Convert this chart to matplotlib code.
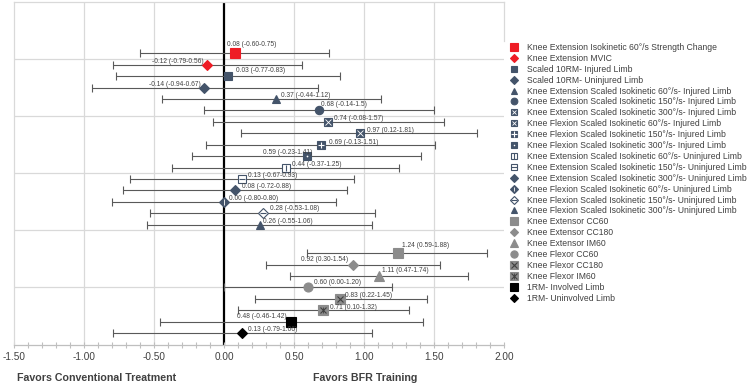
import matplotlib
matplotlib.use('Agg')
import matplotlib.pyplot as plt
import numpy as np
from matplotlib.lines import Line2D
from matplotlib.legend_handler import HandlerTuple

plt.rcParams['font.family'] = ['Liberation Sans', 'DejaVu Sans']

# ---------------- data ----------------
outcomes = [
    "Knee Extension Isokinetic 60°/s Strength Change",
    "Knee Extension MVIC",
    "Scaled 10RM- Injured Limb",
    "Scaled 10RM- Uninjured Limb",
    "Knee Extension Scaled Isokinetic 60°/s- Injured Limb",
    "Knee Extension Scaled Isokinetic 150°/s- Injured Limb",
    "Knee Extension Scaled Isokinetic 300°/s- Injured Limb",
    "Knee Flexion Scaled Isokinetic 60°/s- Injured Limb",
    "Knee Flexion Scaled Isokinetic 150°/s- Injured Limb",
    "Knee Flexion Scaled Isokinetic 300°/s- Injured Limb",
    "Knee Extension Scaled Isokinetic 60°/s- Uninjured Limb",
    "Knee Extension Scaled Isokinetic 150°/s- Uninjured Limb",
    "Knee Extension Scaled Isokinetic 300°/s- Uninjured Limb",
    "Knee Flexion Scaled Isokinetic 60°/s- Uninjured Limb",
    "Knee Flexion Scaled Isokinetic 150°/s- Uninjured Limb",
    "Knee Flexion Scaled Isokinetic 300°/s- Uninjured Limb",
    "Knee Extensor CC60",
    "Knee Extensor CC180",
    "Knee Extensor IM60",
    "Knee Flexor CC60",
    "Knee Flexor CC180",
    "Knee Flexor IM60",
    "1RM- Involved Limb",
    "1RM- Uninvolved Limb",
]
effect = [0.08, -0.12, 0.03, -0.14, 0.37, 0.68, 0.74, 0.97, 0.69, 0.59, 0.44, 0.13,
          0.08, 0.00, 0.28, 0.26, 1.24, 0.92, 1.11, 0.60, 0.83, 0.71, 0.48, 0.13]
ci_low = [-0.60, -0.79, -0.77, -0.94, -0.44, -0.14, -0.08, 0.12, -0.13, -0.23, -0.37, -0.67,
          -0.72, -0.80, -0.53, -0.55, 0.59, 0.30, 0.47, 0.00, 0.22, 0.10, -0.46, -0.79]
ci_high = [0.75, 0.56, 0.83, 0.67, 1.12, 1.50, 1.57, 1.81, 1.51, 1.41, 1.25, 0.93,
           0.88, 0.80, 1.08, 1.06, 1.88, 1.54, 1.74, 1.20, 1.45, 1.32, 1.42, 1.06]
value_labels = [
    "0.08 (-0.60-0.75)", "-0.12 (-0.79-0.56)", "0.03 (-0.77-0.83)", "-0.14 (-0.94-0.67)",
    "0.37 (-0.44-1.12)", "0.68 (-0.14-1.5)", "0.74 (-0.08-1.57)", "0.97 (0.12-1.81)",
    "0.69 (-0.13-1.51)", "0.59 (-0.23-1.41)", "0.44 (-0.37-1.25)", "0.13 (-0.67-0.93)",
    "0.08 (-0.72-0.88)", "0.00 (-0.80-0.80)", "0.28 (-0.53-1.08)", "0.26 (-0.55-1.06)",
    "1.24 (0.59-1.88)", "0.92 (0.30-1.54)", "1.11 (0.47-1.74)", "0.60 (0.00-1.20)",
    "0.83 (0.22-1.45)", "0.71 (0.10-1.32)", "0.48 (-0.46-1.42)", "0.13 (-0.79-1.06)",
]
x_tick_labels = ['-1.50', '-1.00', '-0.50', '0.00', '0.50', '1.00', '1.50', '2.00']
left_caption = "Favors Conventional Treatment"
right_caption = "Favors BFR Training"

# ---------------- styles / layout ----------------
RED = '#ee1c25'
SLATE = '#44546a'
GRAY = '#8c8c8c'
DGRAY = '#404040'
BLK = '#000000'
W = '#ffffff'

# (marker, size, face, edge, overlays[(marker, size, color, lw)])
styles = [
    ('s', 6.5, RED, RED, []),
    ('D', 4.6, RED, RED, []),
    ('s', 5.6, SLATE, SLATE, []),
    ('D', 4.6, SLATE, SLATE, []),
    ('^', 6.0, SLATE, SLATE, []),
    ('o', 6.0, SLATE, SLATE, []),
    ('s', 6.0, SLATE, SLATE, [('x', 4.0, W, 0.6)]),
    ('s', 6.0, SLATE, SLATE, [('x', 4.0, W, 0.6)]),
    ('s', 6.0, SLATE, SLATE, [('+', 5.0, W, 0.8)]),
    ('s', 6.0, SLATE, SLATE, [('.', 1.5, W, 0.5)]),
    ('s', 6.0, W, SLATE, [('|', 5.0, SLATE, 0.8)]),
    ('s', 6.0, W, SLATE, [('_', 5.0, SLATE, 0.8)]),
    ('D', 4.6, SLATE, SLATE, []),
    ('D', 4.6, SLATE, SLATE, [('|', 4.0, W, 0.6)]),
    ('D', 4.6, W, SLATE, [('_', 5.0, SLATE, 0.8)]),
    ('^', 6.0, SLATE, SLATE, []),
    ('s', 6.5, GRAY, GRAY, []),
    ('D', 4.8, GRAY, GRAY, []),
    ('^', 6.5, GRAY, GRAY, []),
    ('o', 6.5, GRAY, GRAY, []),
    ('s', 6.5, GRAY, GRAY, [('x', 5.0, DGRAY, 0.8)]),
    ('s', 6.5, GRAY, GRAY, [('x', 5.0, DGRAY, 0.8), ('|', 5.0, DGRAY, 0.6)]),
    ('s', 6.5, BLK, BLK, []),
    ('D', 4.8, BLK, BLK, []),
]
# label offsets in pixels (dx, dy, ha)
label_offsets = [
    (-8, 9, 'left'), (-4, 3.6, 'right'), (8, 5.4, 'left'), (-3.4, 3.6, 'right'),
    (5, 3.6, 'left'), (2, 6, 'left'), (6, 3, 'left'), (7, 3, 'left'),
    (8.7, 2.7, 'left'), (5.4, 3.3, 'right'), (6.4, 2.6, 'left'), (5.5, 3, 'left'),
    (7, 4, 'left'), (5, 3.3, 'left'), (6.5, 5, 'left'), (2.3, 3, 'left'),
    (4.4, 8, 'left'), (-5, 5.3, 'right'), (2.6, 5.3, 'left'), (6.3, 4.7, 'left'),
    (4.5, 3, 'left'), (6.3, 2.4, 'left'), (-5, 5, 'right'), (6, 4, 'left'),
]

n_upper = 16
ypos = [25.5 - i for i in range(n_upper)] + [8 - i for i in range(len(outcomes) - n_upper)]

fig = plt.figure(figsize=(7.48, 3.86), dpi=100)
ax = fig.add_axes([14 / 748, 1 - 344.5 / 386, 490 / 748, 342.5 / 386])
ax.set_xlim(-1.5, 2.0)
ax.set_ylim(0, 30)

GRID = '#d9d9d9'
for gx in [-1.0, -0.5, 0.5, 1.0, 1.5]:
    ax.axvline(gx, color=GRID, lw=0.9, zorder=0)
for gy in [5, 10, 15, 20, 25]:
    ax.axhline(gy, color=GRID, lw=0.9, zorder=0)
ax.axvline(0, color='black', lw=1.6, zorder=1)

for sp in ['left', 'top', 'right']:
    ax.spines[sp].set_color(GRID)
    ax.spines[sp].set_linewidth(0.9)
ax.spines['right'].set_bounds(26.6, 30)
ax.spines['bottom'].set_color('#bfbfbf')
ax.spines['bottom'].set_linewidth(0.9)

ax.set_yticks([])
ax.set_xticks(np.arange(-1.5, 2.01, 0.5))
ax.set_xticklabels(x_tick_labels)
ax.set_xticks(np.arange(-1.5, 2.001, 0.1), minor=True)
ax.tick_params(axis='x', which='both', direction='inout', length=4.3, width=0.8,
               color='#bfbfbf', labelsize=7.2, labelcolor='#404040', pad=3.5)

handles = []
for i in range(len(outcomes)):
    x, y = effect[i], ypos[i]
    ecol = '#595959'
    ax.errorbar([x], [y], xerr=[[x - ci_low[i]], [ci_high[i] - x]], fmt='none',
                ecolor=ecol, elinewidth=0.8, capsize=3.0, capthick=0.8, zorder=2)
    m, s, fc, ec, ov = styles[i]
    ax.plot([x], [y], marker=m, ms=s, mfc=fc, mec=ec, mew=0.8, ls='none', zorder=3)
    for om, osz, oc, olw in ov:
        ax.plot([x], [y], marker=om, ms=osz, color=oc, mew=olw, ls='none', zorder=4)
    dx, dy, ha = label_offsets[i]
    ax.annotate(value_labels[i], (x, y), xytext=(dx, dy), textcoords='offset pixels',
                ha=ha, va='center', fontsize=4.8, color='#404040', zorder=5)
    # legend handle (slightly smaller)
    hs = [Line2D([], [], marker=m, ms=s * 0.8, mfc=fc, mec=ec, mew=0.8, ls='none')]
    for om, osz, oc, olw in ov:
        hs.append(Line2D([], [], marker=om, ms=osz * 0.8, color=oc, mew=olw, ls='none'))
    handles.append(tuple(hs))

fig.legend(handles, outcomes, handler_map={tuple: HandlerTuple(ndivide=1, pad=0)},
           loc='upper left', bbox_to_anchor=(509 / 748, 1 - 43 / 386), frameon=False,
           fontsize=6.2, labelcolor='#404040', handlelength=1.2, handletextpad=0.9,
           labelspacing=0.22, borderpad=0, borderaxespad=0)

fig.text(97 / 748, 1 - 378 / 386, left_caption, ha='center', va='center',
         fontsize=7.7, fontweight='bold', color='#404040')
fig.text(365 / 748, 1 - 378 / 386, right_caption, ha='center', va='center',
         fontsize=7.7, fontweight='bold', color='#404040')

fig.savefig('out.png', dpi=100)
